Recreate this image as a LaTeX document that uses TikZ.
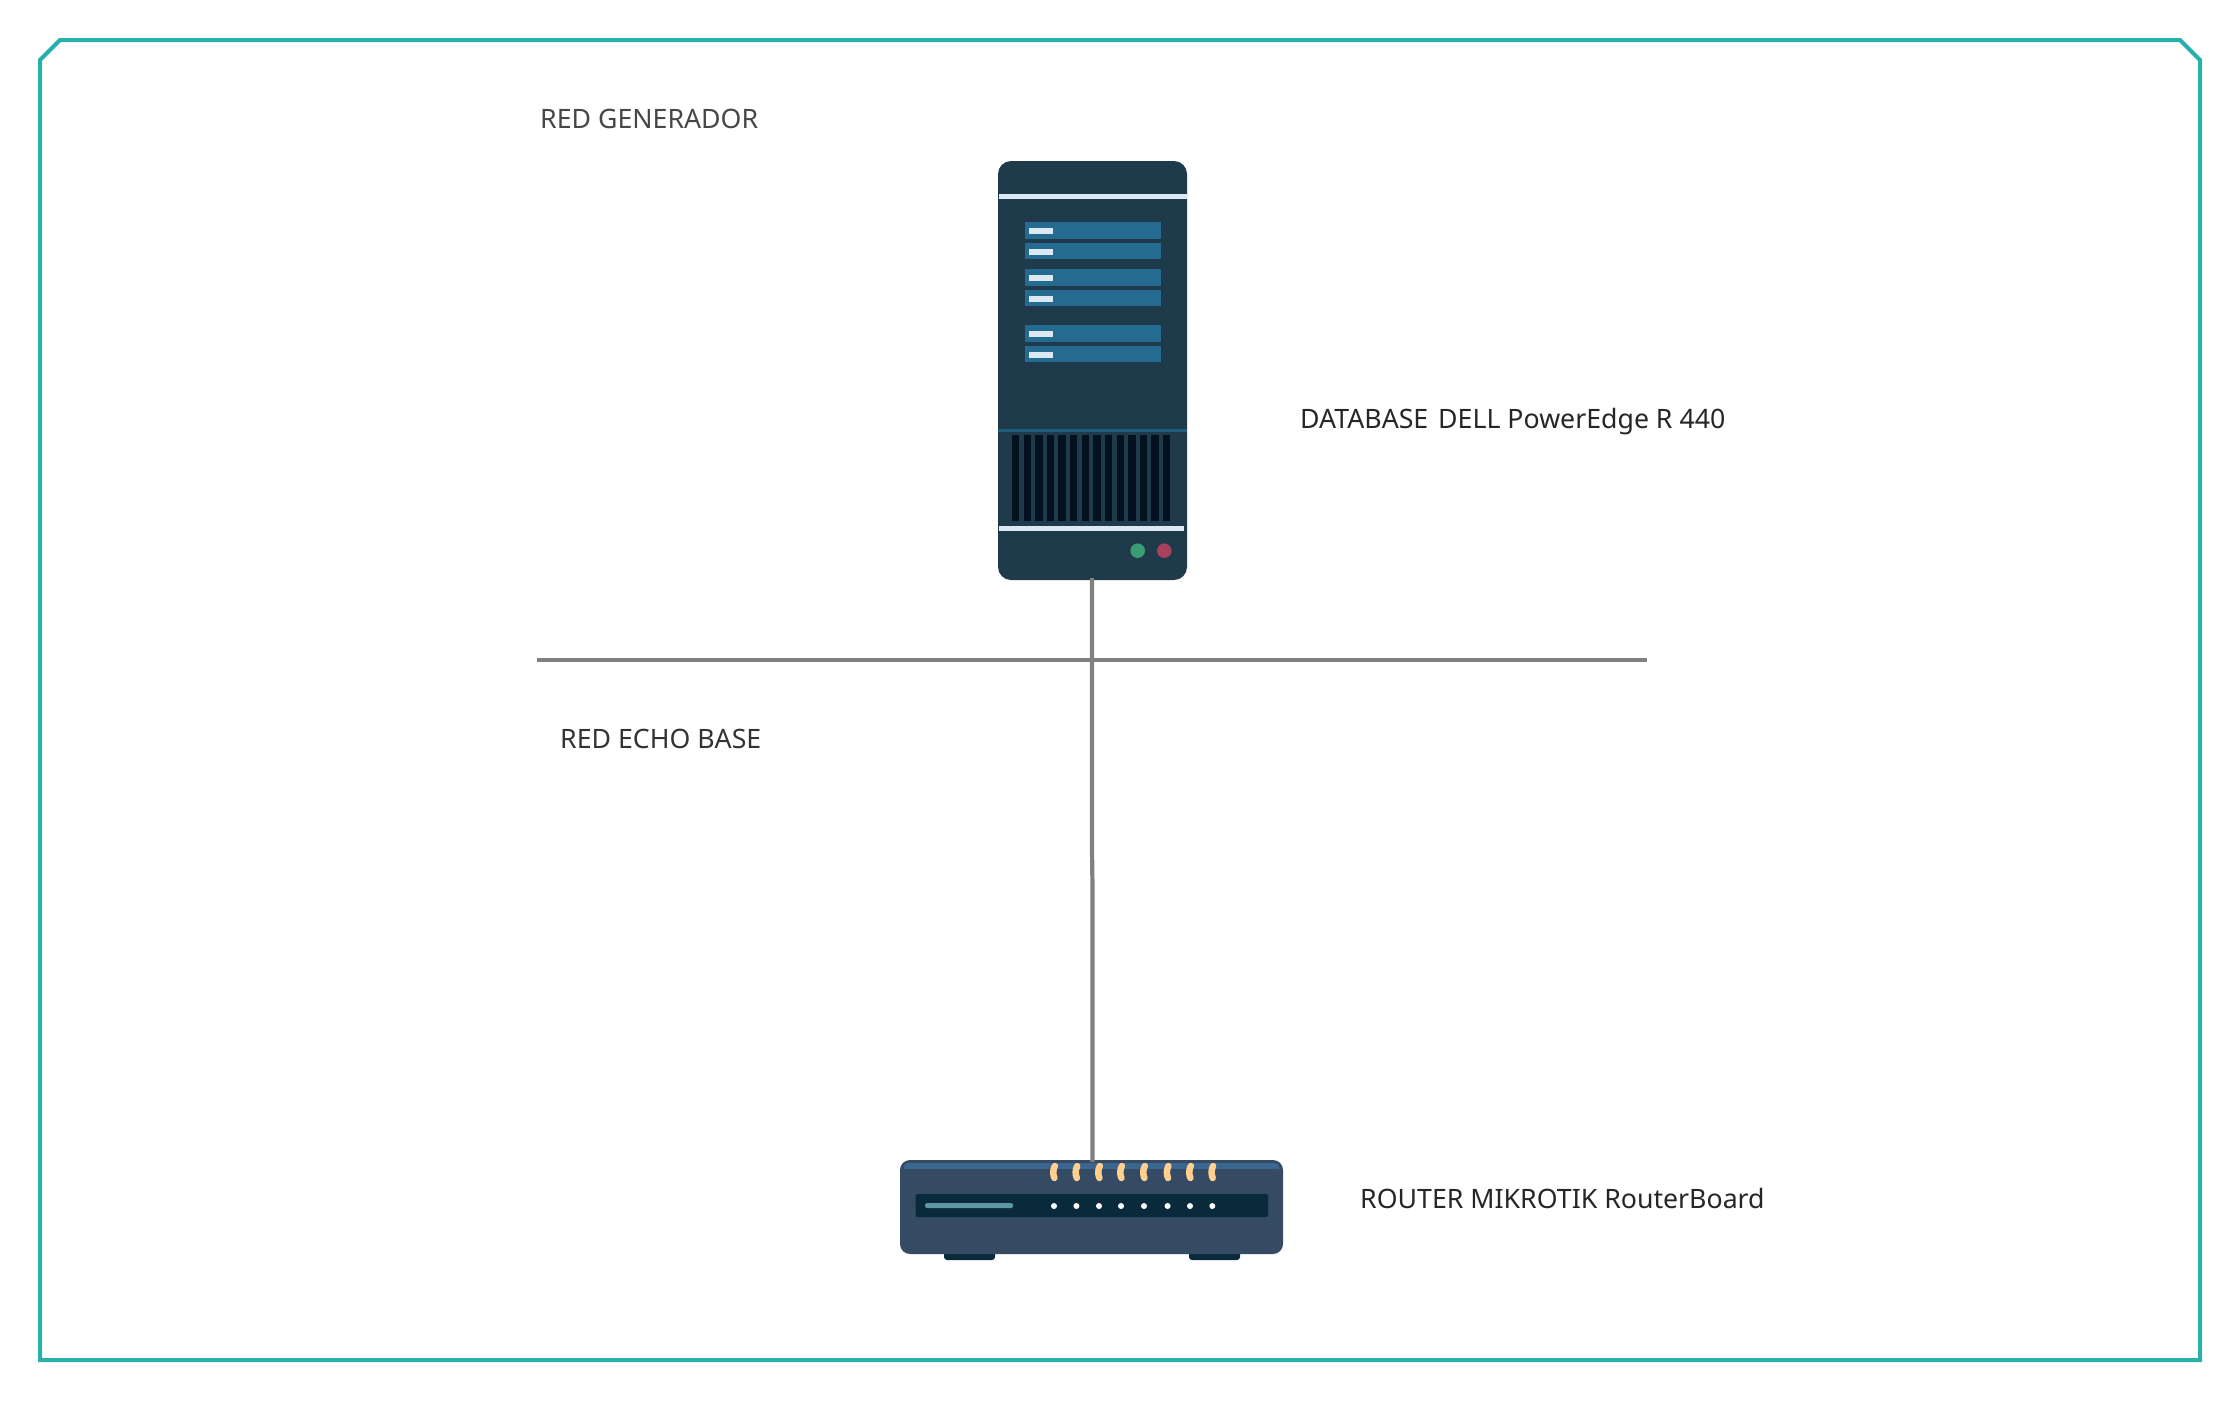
\documentclass[tikz,border=0pt]{standalone}
\usepackage{fontspec}
\setmainfont{Noto Sans}
\definecolor{frameteal}{HTML}{27B0AC}
\definecolor{linegray}{HTML}{808080}
\definecolor{srvbody}{HTML}{1F3A4A}
\definecolor{srvbar}{HTML}{256A8F}
\definecolor{srvpale}{HTML}{DDE8F5}
\definecolor{srvthin}{HTML}{1F5F7C}
\definecolor{srvvent}{HTML}{03111F}
\definecolor{ledgreen}{HTML}{3A9C74}
\definecolor{ledred}{HTML}{A8425C}
\definecolor{rtbody}{HTML}{344B63}
\definecolor{rtstripe}{HTML}{3A6690}
\definecolor{rtdark}{HTML}{082A3A}
\definecolor{rtbar}{HTML}{5E95A3}
\definecolor{rtcap}{HTML}{FFCF90}
\begin{document}
\begin{tikzpicture}[x=1pt,y=-1pt,
 lbl/.style={inner sep=0,anchor=base west,font=\fontsize{26.7}{32}\selectfont,text=#1},lbl/.default={black!85}]
\useasboundingbox (0,0) rectangle (2240,1400);
\fill[white] (0,0) rectangle (2240,1400);
\draw[frameteal,line width=4] (40,60) -- (60,40) -- (2180,40) -- (2200,60) -- (2200,1360) -- (40,1360) -- cycle;
% server
\fill[srvbody,rounded corners=13] (998,161) rectangle (1187,580);
\fill[srvpale] (999,194) rectangle (1187,199);
\foreach \y in {222,242.7,269,289.7,325,345.7}{
 \fill[srvbar] (1025,\y) rectangle (1160.7,\y+16.5);
 \fill[srvpale] (1029,\y+6) rectangle (1053,\y+12);
}
\fill[srvthin] (998,429) rectangle (1187,432);
\foreach \i in {0,...,13}{\fill[srvvent] (1012+11.62*\i,435) rectangle (1019.3+11.62*\i,521);}
\fill[srvpale] (999,526) rectangle (1184,530.5);
\fill[ledgreen] (1137.7,550.7) circle (7.3);
\fill[ledred] (1164.3,550.7) circle (7.3);
% router
\fill[rtdark,rounded corners=3] (944,1245) rectangle (995,1260);
\fill[rtdark,rounded corners=3] (1189,1245) rectangle (1240,1260);
\fill[rtbody,rounded corners=10] (900,1160) rectangle (1283,1254);
\fill[rtstripe,rounded corners=4] (904,1163) rectangle (1279,1175);
\fill[rtbody] (904,1169) rectangle (1279,1176);
\fill[rtdark,rounded corners=2] (915.7,1194) rectangle (1268,1217);
\fill[rtbar,rounded corners=2] (925,1203) rectangle (1013,1208);
\foreach \x in {1054,1076.4,1099,1121,1144,1167.6,1190,1212.3}{
 \fill[white] (\x,1206) circle (3);
 \draw[rtcap,line width=6.5,line cap=round] (\x+0.8,1166) .. controls (\x-1.2,1170) and (\x-1.2,1174) .. (\x+0.4,1178);
}
% connectors
\coordinate (srvport) at (1092,578);
\coordinate (rtport) at (1092.4,1162);
\coordinate (hl) at (536.5,660);
\coordinate (hr) at (1647,660);
\draw[linegray,line width=4.2] (hl) -- (hr);
\draw[linegray,line width=4.2] (srvport) -- (1092,850) -- (1092.4,880) -- (rtport);
% text
\node[lbl={black!72}] (t1) at (540,128) {RED GENERADOR};
\node[lbl] (t2) at (1300,428) {DATABASE\hspace{0.11em} DELL PowerEdge R 440};
\node[lbl={black!80}] (t3) at (560,748) {RED ECHO BASE};
\node[lbl] (t4) at (1360,1208) {ROUTER MIKROTIK RouterBoard};
\end{tikzpicture}
\end{document}
